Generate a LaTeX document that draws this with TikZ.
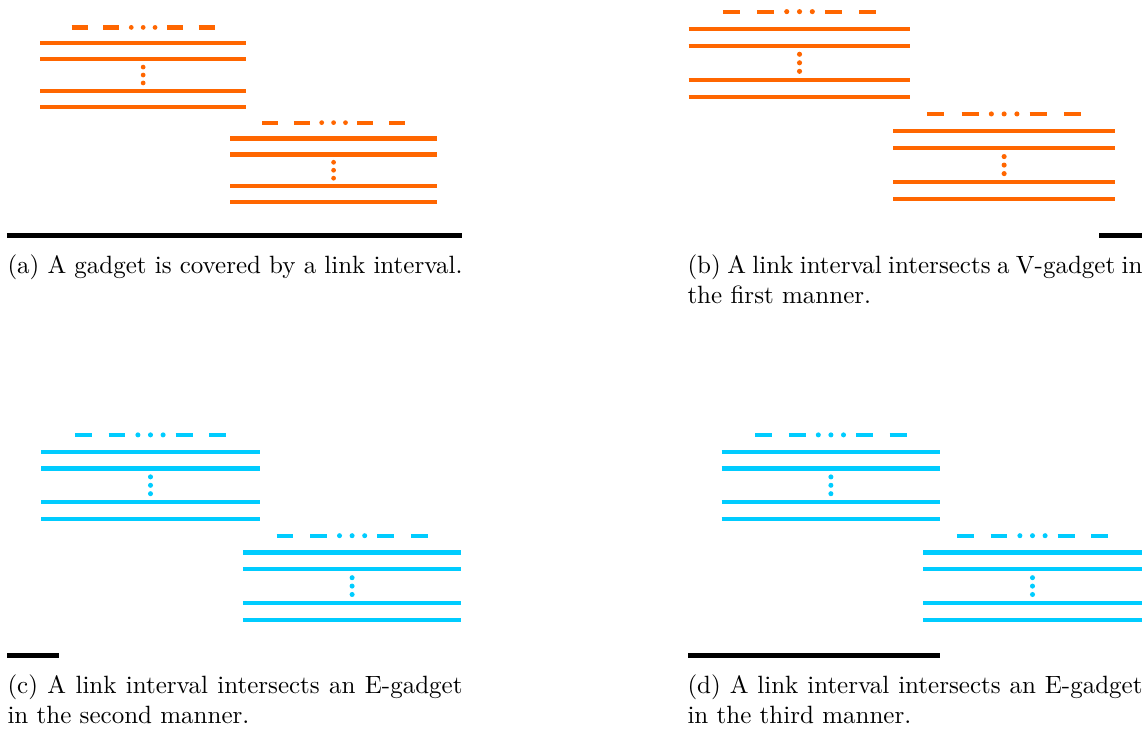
\documentclass[tikz,border=0pt]{standalone}
\usepackage{tikz}
\usetikzlibrary{positioning}
\definecolor{gorange}{RGB}{255,102,0}
\definecolor{gcyan}{RGB}{0,204,255}
\tikzset{
    gline/.style = {line width=1.7pt},
    glink/.style = {line width=1.8pt,black},
    capnode/.style = {anchor=base west, inner sep=0pt, text width=182pt, align=justify},
    gadget/.pic = {
        \foreach \y in {0,1,3,4} \draw[gline,#1] (0,\y) -- (13,\y); % rows
        \foreach \a/\b in {2/3,4/5,8/9,10/11} \draw[gline,#1] (\a,-1) -- (\b,-1); % top
        \foreach \x in {5.75,6.5,7.25} \fill[#1] (\x,-1) circle[radius=0.15];
        \foreach \y in {1.5,2,2.5} \fill[#1] (6.5,\y) circle[radius=0.15];
    }
}
\begin{document}
\begin{tikzpicture}[x=0.4pt,y=-0.4pt]
\useasboundingbox (0,0) rectangle (1146,730);
%
% (a)
\begin{scope}[shift={(40,43.3)},scale=15.87]
\pic[transform shape] at (0,0) {gadget=gorange};
\pic[transform shape] at (12,6) {gadget=gorange};
\draw[glink] (-2.08,12.12) -- (26.6,12.12);
\end{scope}
% (b)
\begin{scope}[shift={(688.7,28.7)},scale=17.05]
\pic[transform shape] at (0,0) {gadget=gorange};
\pic[transform shape] at (12,6) {gadget=gorange};
\draw[glink] (24.07,12.12) -- (26.6,12.12);
\end{scope}
% (c)
\begin{scope}[shift={(41.3,451.7)},scale=16.8]
\pic[transform shape] at (0,0) {gadget=gcyan};
\pic[transform shape] at (12,6) {gadget=gcyan};
\draw[glink] (-2.04,12.12) -- (1.05,12.12);
\end{scope}
% (d)
\begin{scope}[shift={(721.7,451.7)},scale=16.8]
\pic[transform shape] at (0,0) {gadget=gcyan};
\pic[transform shape] at (12,6) {gadget=gcyan};
\draw[glink] (-2.0,12.12) -- (13.0,12.12);
\end{scope}
%
\node[capnode] (capa) at (7,274) {(a) A gadget is covered by a link interval.};
\node[capnode] (capb) at (687,274) {(b) A link interval intersects a V-gadget in\linebreak the first manner.};
\node[capnode] (capc) at (7,694) {(c) A link interval intersects an E-gadget in the second manner.};
\node[capnode] (capd) at (687,694) {(d) A link interval intersects an E-gadget in the third manner.};

\end{tikzpicture}
\end{document}
